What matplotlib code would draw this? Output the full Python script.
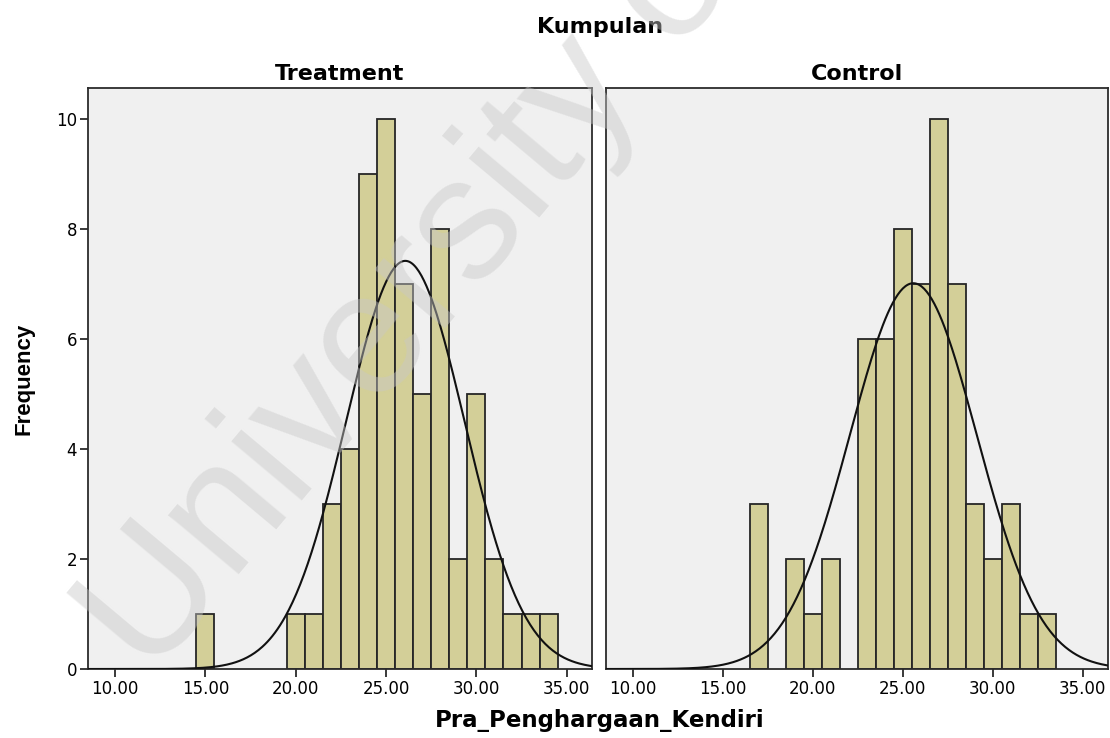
import numpy as np
import matplotlib
matplotlib.use("Agg")
import matplotlib.pyplot as plt
from matplotlib.ticker import FormatStrFormatter

plt.rcParams['font.family'] = ['DejaVu Sans']

# scores (bin centres) and frequencies
treat_scores = [15, 20, 21, 22, 23, 24, 25, 26, 27, 28, 29, 30, 31, 32, 33, 34]
treat_counts = [1, 1, 1, 3, 4, 9, 10, 7, 5, 8, 2, 5, 2, 1, 1, 1]
ctrl_scores = [17, 19, 20, 21, 23, 24, 25, 26, 27, 28, 29, 30, 31, 32, 33]
ctrl_counts = [3, 2, 1, 2, 6, 6, 8, 7, 10, 7, 3, 2, 3, 1, 1]
groups = ["Treatment", "Control"]
x_ticks = [10, 15, 20, 25, 30, 35]
y_ticks = [0, 2, 4, 6, 8, 10]

bar_col = "#d3cf98"
bg_col = "#f0f0f0"
frame_col = "#2b2b2b"

fig = plt.figure(figsize=(11.1, 7.38), dpi=100)
ax1 = fig.add_axes([88 / 1110, 69 / 738, 504 / 1110, 581 / 738])
ax2 = fig.add_axes([606 / 1110, 69 / 738, 502 / 1110, 581 / 738])

data = [(treat_scores, treat_counts), (ctrl_scores, ctrl_counts)]
for ax, name, (sc, cn) in zip([ax1, ax2], groups, data):
    ax.set_facecolor(bg_col)
    ax.bar(sc, cn, width=1.0, color=bar_col, edgecolor="#262626", linewidth=1.3, zorder=2)
    # normal curve fitted to the same values
    vals = np.repeat(sc, cn)
    mu, sd = vals.mean(), vals.std(ddof=1)
    xs = np.linspace(8.5, 36.4, 400)
    ys = len(vals) * np.exp(-0.5 * ((xs - mu) / sd) ** 2) / (sd * np.sqrt(2 * np.pi))
    ax.plot(xs, ys, color="#111111", linewidth=1.5, zorder=3)
    ax.set_xlim(8.5, 36.4)
    ax.set_ylim(0, 10.56)
    ax.set_xticks(x_ticks)
    ax.xaxis.set_major_formatter(FormatStrFormatter('%.2f'))
    ax.tick_params(axis='x', length=6, width=1.3, color=frame_col, labelsize=12, pad=2)
    for s in ax.spines.values():
        s.set_color(frame_col)
        s.set_linewidth(1.3)
    ax.set_title(name, fontsize=16, fontweight='bold', pad=6)

ax1.set_yticks(y_ticks)
ax1.tick_params(axis='y', length=6, width=1.3, color=frame_col, labelsize=12, pad=2)
ax1.set_ylabel("Frequency", fontsize=16, fontweight='bold', family='Liberation Sans',
               labelpad=15)
ax2.set_yticks([])

fig.text(600 / 1110, 1 - 33 / 738, "Kumpulan", ha='center', va='baseline',
         fontsize=16, fontweight='bold')
fig.text(600 / 1110, 1 - 727 / 738, "Pra_Penghargaan_Kendiri", ha='center', va='baseline',
         fontsize=16.5, fontweight='bold')

# watermark
fig.text(150 / 1110, 1 - 680 / 738, "University of Malaya", rotation=50,
         rotation_mode='anchor', ha='left', va='baseline', fontsize=126,
         family='Liberation Sans', color='#c8c8c8', alpha=0.45, zorder=10)

fig.savefig("out.png", dpi=100)
